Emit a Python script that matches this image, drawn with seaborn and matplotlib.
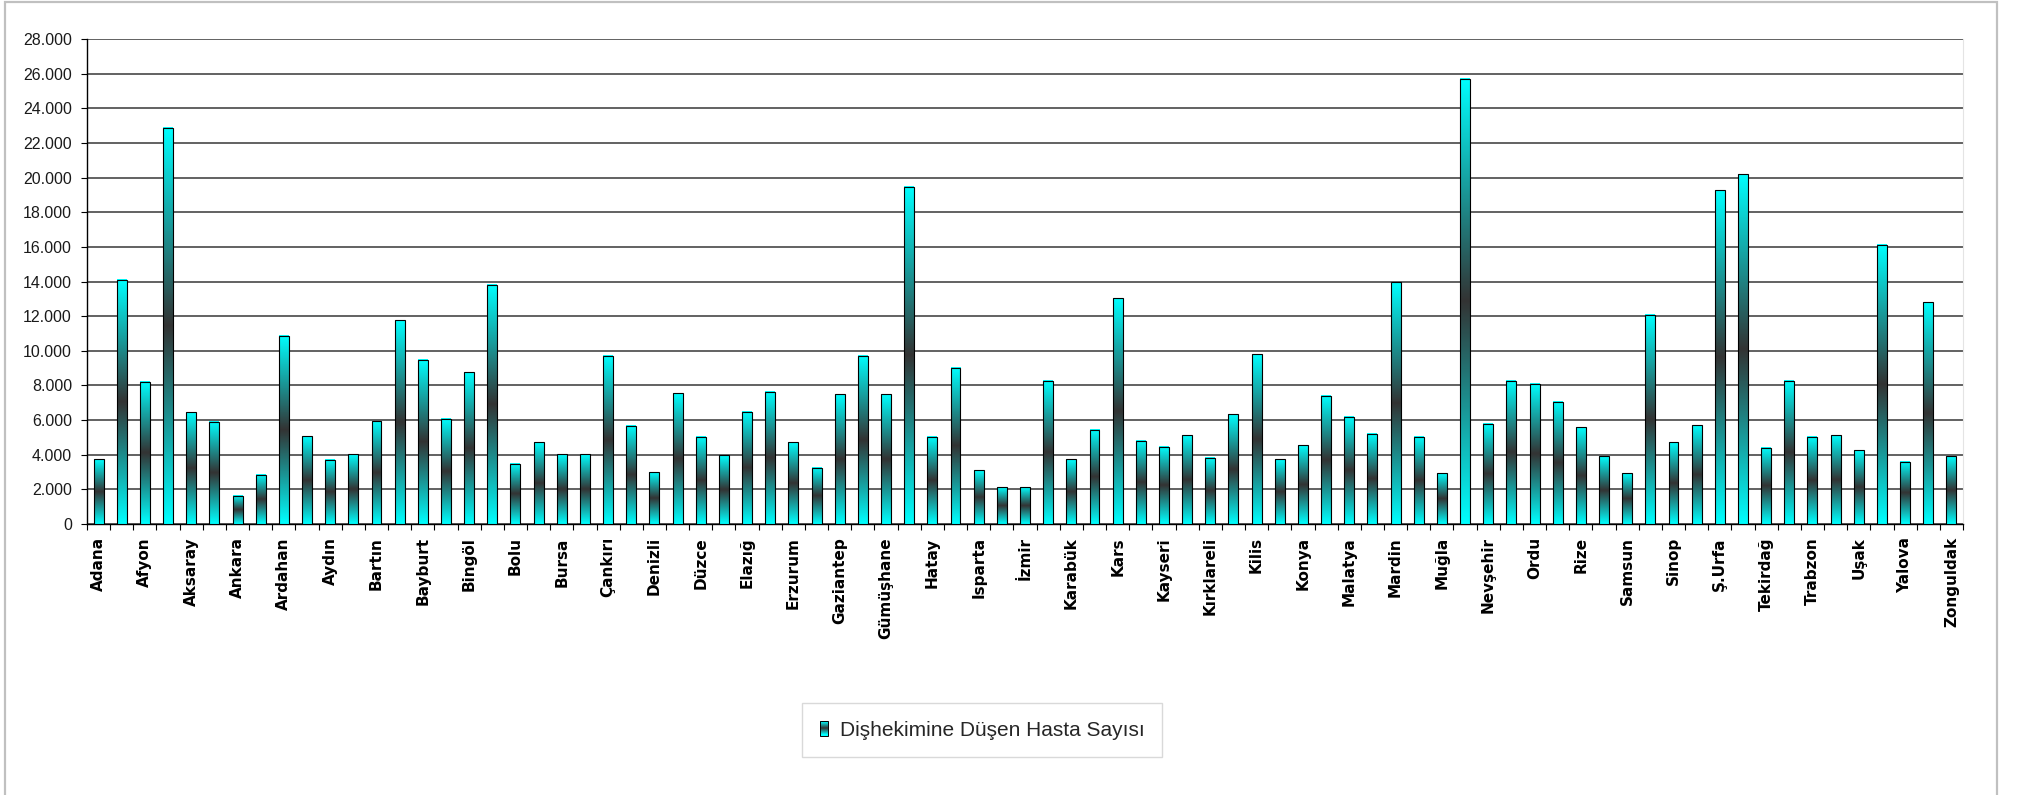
import matplotlib
matplotlib.use("Agg")
import matplotlib.pyplot as plt
import numpy as np
import seaborn as sns
from matplotlib.colors import LinearSegmentedColormap
from matplotlib.legend_handler import HandlerBase
from matplotlib.patches import Rectangle
from matplotlib.ticker import FuncFormatter

sns.set_theme(style="ticks")
plt.rcParams["font.family"] = ["Liberation Sans", "DejaVu Sans"]

# ── Data ───────────────────────────────────────────────────────────────────
PROVINCES = [
    "Adana", "Adıyaman", "Afyon", "Ağrı", "Aksaray", "Amasya", "Ankara",
    "Antalya", "Ardahan", "Artvin", "Aydın", "Balıkesir", "Bartın", "Batman",
    "Bayburt", "Bilecik", "Bingöl", "Bitlis", "Bolu", "Burdur", "Bursa",
    "Çanakkale", "Çankırı", "Çorum", "Denizli", "Diyarbakır", "Düzce",
    "Edirne", "Elazığ", "Erzincan", "Erzurum", "Eskişehir", "Gaziantep",
    "Giresun", "Gümüşhane", "Hakkari", "Hatay", "Iğdır", "Isparta",
    "İstanbul", "İzmir", "Kahramanmaraş", "Karabük", "Karaman", "Kars",
    "Kastamonu", "Kayseri", "Kırıkkale", "Kırklareli", "Kırşehir", "Kilis",
    "Kocaeli", "Konya", "Kütahya", "Malatya", "Manisa", "Mardin", "Mersin",
    "Muğla", "Muş", "Nevşehir", "Niğde", "Ordu", "Osmaniye", "Rize",
    "Sakarya", "Samsun", "Siirt", "Sinop", "Sivas", "Ş.Urfa", "Şırnak",
    "Tekirdağ", "Tokat", "Trabzon", "Tunceli", "Uşak", "Van", "Yalova",
    "Yozgat", "Zonguldak",
]

PATIENTS_PER_DENTIST = [
    3750, 14100, 8200, 22880, 6450, 5900, 1630,
    2840, 10880, 5080, 3720, 4030, 5920, 11760,
    9490, 6070, 8760, 13800, 3480, 4720, 4030,
    4030, 9720, 5660, 3000, 7540, 5030,
    3980, 6480, 7640, 4730, 3260, 7490,
    9720, 7490, 19460, 5030, 9010, 3100,
    2110, 2110, 8270, 3740, 5440, 13040,
    4800, 4470, 5120, 3820, 6340, 9800,
    3740, 4550, 7390, 6190, 5220, 13960, 5050,
    2920, 25700, 5780, 8270, 8110, 7050, 5590,
    3900, 2920, 12080, 4730, 5690, 19280, 20190,
    4400, 8270, 5040, 5130, 4250, 16110, 3590,
    12790, 3900,
]

SERIES_NAME = "Dişhekimine Düşen Hasta Sayısı"
Y_TICKS = list(range(0, 28001, 2000))

# Excel-style two-colour gradient: cyan at the ends, dark grey in the middle
BAR_CMAP = LinearSegmentedColormap.from_list("cyan_dark", ["#00ffff", "#333333", "#00ffff"])


class GradientHandler(HandlerBase):
    """Legend key drawn as a small stack of stripes using the bar gradient."""

    def create_artists(self, legend, orig_handle, xdescent, ydescent,
                       width, height, fontsize, trans):
        n = 14
        artists = []
        for i in range(n):
            artists.append(Rectangle(
                (-xdescent, -ydescent + i * height / n), width, height / n,
                facecolor=BAR_CMAP(i / (n - 1)), edgecolor="none", transform=trans,
            ))
        artists.append(Rectangle((-xdescent, -ydescent), width, height,
                                 facecolor="none", edgecolor="black",
                                 linewidth=0.7, transform=trans))
        return artists


# ── Figure ─────────────────────────────────────────────────────────────────
W, H = 2020, 795
fig = plt.figure(figsize=(W / 100, H / 100), dpi=100)
fig.patch.set_facecolor("white")
ax = fig.add_axes([87 / W, 1 - 524 / H, (1963 - 87) / W, (524 - 39) / H])

sns.barplot(
    x=PROVINCES, y=PATIENTS_PER_DENTIST, color="#19999a", saturation=1,
    width=0.43, errorbar=None, edgecolor="black", linewidth=0.8,
    zorder=3, ax=ax,
)

# paint the gradient inside each bar, keep the bar only as the outline
grad = np.linspace(0, 1, 256).reshape(-1, 1)
for bar in list(ax.patches):
    x0, w, h = bar.get_x(), bar.get_width(), bar.get_height()
    ax.imshow(grad, extent=(x0, x0 + w, 0, h), origin="lower", aspect="auto",
              cmap=BAR_CMAP, interpolation="bilinear", zorder=2.9)
    bar.set_facecolor("none")

ax.set_xlim(-0.5, len(PROVINCES) - 0.5)
ax.set_ylim(0, 28000)
ax.set_xlabel("")
ax.set_ylabel("")

# y axis
ax.set_yticks(Y_TICKS)
ax.yaxis.set_major_formatter(FuncFormatter(lambda v, _: f"{int(v):,}".replace(",", ".")))
ax.tick_params(axis="y", length=4.3, width=0.8, direction="out", pad=6.5,
               labelsize=11.5, color="black", labelcolor="#1a1a1a")

# x axis: labels on every other category, tick marks between categories
ax.set_xticks(range(0, len(PROVINCES), 2))
ax.set_xticklabels(PROVINCES[::2], rotation=90, fontfamily="DejaVu Sans",
                   fontweight="bold", fontsize=11, color="black")
ax.set_xticks(np.arange(-0.5, len(PROVINCES)), minor=True)
ax.tick_params(axis="x", which="major", length=0, pad=9.5)
ax.tick_params(axis="x", which="minor", length=4.3, width=0.8,
               direction="out", color="black")

ax.yaxis.grid(True, color="#555555", linewidth=1.3)
ax.xaxis.grid(False)
ax.set_axisbelow(True)

ax.spines["top"].set_visible(False)
ax.spines["right"].set_color("#e4e4e4")
ax.spines["right"].set_linewidth(0.8)
for side in ("left", "bottom"):
    ax.spines[side].set_color("black")
    ax.spines[side].set_linewidth(1.0)

# legend below the plot
handle = Rectangle((0, 0), 1, 1)
leg = fig.legend(
    [handle], [SERIES_NAME], handler_map={Rectangle: GradientHandler()},
    loc="center", bbox_to_anchor=(982 / W, 1 - 730 / H),
    bbox_transform=fig.transFigure, fontsize=15, frameon=True,
    fancybox=False, framealpha=1, edgecolor="#d9d9d9", borderpad=0.85,
    handlelength=0.42, handleheight=0.7, handletextpad=0.55,
)
leg.get_frame().set_linewidth(1.0)

# light grey chart-area border
fig.add_artist(Rectangle((5 / W, -0.02), (1997 - 5) / W, 1.02 - 2 / H,
                         transform=fig.transFigure, fill=False,
                         edgecolor="#c0c0c0", linewidth=1.6))

fig.savefig("out.png", dpi=100)
plt.close(fig)
